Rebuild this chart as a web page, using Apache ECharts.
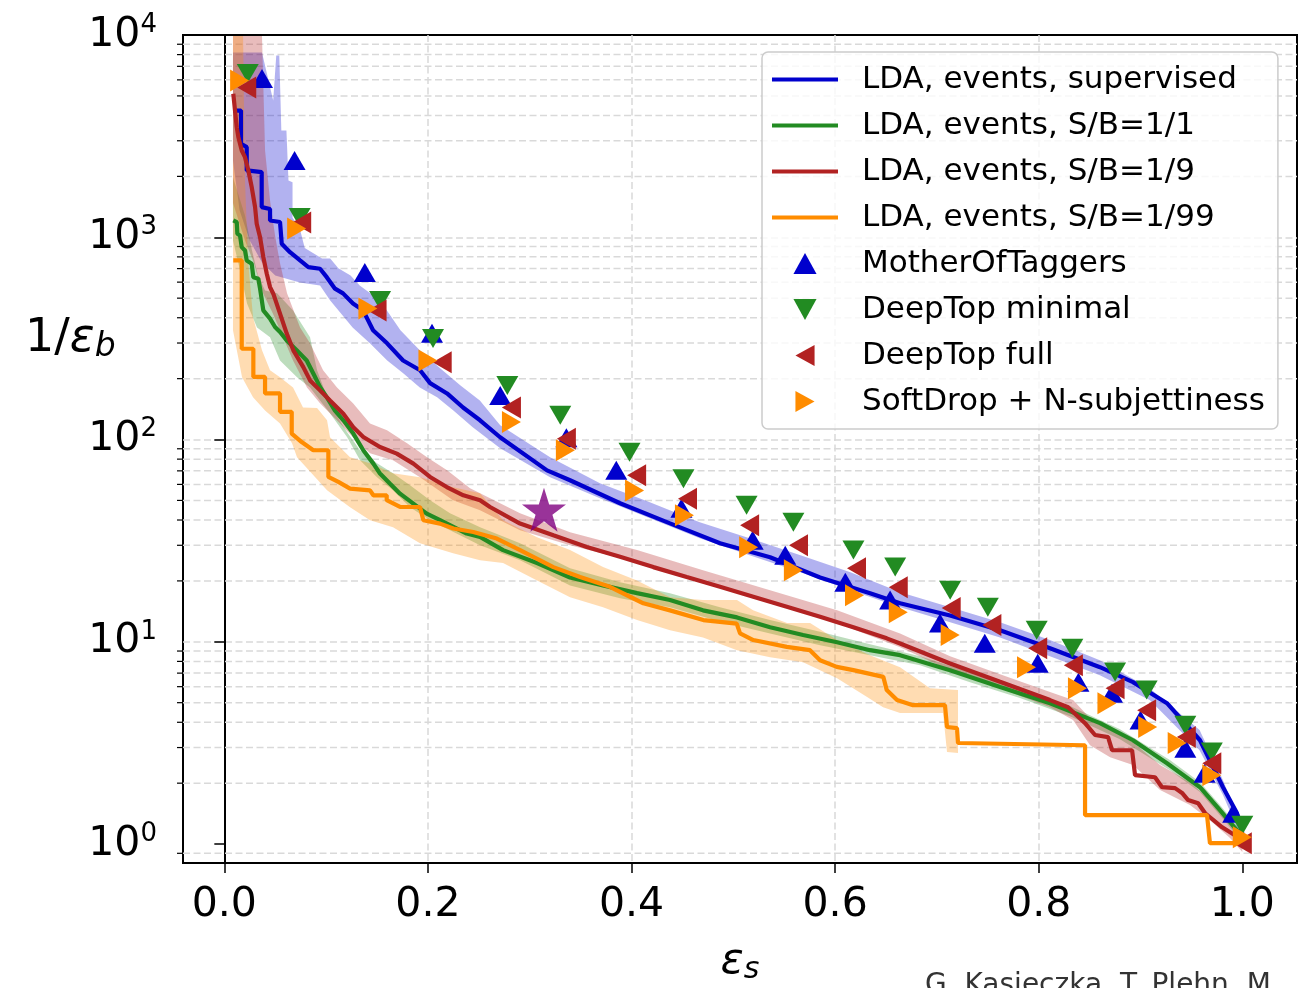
<!DOCTYPE html>
<html>
<head>
<meta charset="utf-8">
<script src="https://cdn.jsdelivr.net/npm/echarts@6/dist/echarts.min.js"></script>
<style>
  html, body { margin: 0; padding: 0; background: #fff; }
  #main { width: 1305px; height: 988px; }
</style>
</head>
<body>
<div id="main"></div>
<script>
// axis ticks
const xTicks = [0, 0.2, 0.4, 0.6, 0.8, 1.0];
const yTicks = [1, 10, 100, 1000, 10000];
const yMinorTicks = [0.9, 2, 3, 4, 5, 6, 7, 8, 9, 20, 30, 40, 50, 60, 70, 80, 90,
  200, 300, 400, 500, 600, 700, 800, 900, 2000, 3000, 4000, 5000, 6000, 7000, 8000, 9000];

// LDA curves: [eps_s, 1/eps_b]
const ldaSupervised = [[0.0088,4230],[0.0164,4230],[0.0164,2900],[0.022,2790],[0.022,2140],[0.0367,2100],[0.0367,1410],[0.0449,1380],[0.0449,1210],[0.0547,1190],[0.0564,929],[0.0645,844],[0.0744,768],[0.0825,712],[0.094,699],[0.1006,635],[0.1087,557],[0.1166,528],[0.1264,471],[0.1363,435],[0.1461,347],[0.1599,299],[0.1756,246],[0.1923,220],[0.2021,190],[0.2188,169],[0.2345,144],[0.2512,124.5],[0.2709,102.6],[0.317,70.4],[0.3396,62.9],[0.3887,48.4],[0.4378,38.5],[0.4869,30.7],[0.5361,26.2],[0.5852,20.8],[0.6343,17.4],[0.6638,15.5],[0.7129,13.5],[0.762,11.4],[0.8111,9.3],[0.8602,7.49],[0.8926,6.32],[0.926,4.97],[0.9584,3.26],[0.981,1.91],[0.9948,1.42],[1.0,1.13]];
const ldaSB1 = [[0.0088,1211],[0.0122,1188],[0.0128,1040],[0.0154,1021],[0.0171,894],[0.0203,861],[0.022,768],[0.0269,740],[0.0285,635],[0.0334,624],[0.0351,557],[0.0383,435],[0.0449,396],[0.0498,360],[0.0547,340],[0.0613,309],[0.0711,276],[0.0809,246],[0.0874,212],[0.094,182],[0.1006,162],[0.1087,139],[0.1169,124.5],[0.1267,107],[0.1365,88.5],[0.1464,76],[0.1529,67.9],[0.1628,60.5],[0.1726,54],[0.1857,48.2],[0.1988,43],[0.2119,39.9],[0.225,37],[0.2381,34.3],[0.2512,33],[0.2738,28.4],[0.3072,24.5],[0.3396,20.8],[0.372,19],[0.4054,17.4],[0.4378,16.1],[0.4702,14.3],[0.5036,13.2],[0.5361,11.8],[0.5685,10.8],[0.6019,9.95],[0.6343,9.09],[0.6638,8.59],[0.7129,7.24],[0.762,5.97],[0.8111,4.97],[0.8602,3.96],[0.8926,3.26],[0.926,2.51],[0.9584,1.91],[0.978,1.47],[0.9948,1.17],[1.0,1.08]];
const ldaSB9 = [[0.0088,5120],[0.0105,4230],[0.0122,3500],[0.0138,3125],[0.0171,2685],[0.0203,2488],[0.0236,2138],[0.0269,1770],[0.0302,1409],[0.0318,1166],[0.0351,1001],[0.0383,797],[0.0417,660],[0.0449,567],[0.0481,526],[0.0547,419],[0.0613,334],[0.0678,276],[0.0776,228],[0.0842,196],[0.094,175],[0.1038,156],[0.1169,134],[0.1267,115],[0.1365,103],[0.1529,91.8],[0.1694,85.2],[0.1857,76],[0.2021,65.3],[0.2185,58.2],[0.2348,53],[0.2512,50.1],[0.261,46.4],[0.2905,38.4],[0.3232,33.6],[0.356,29.4],[0.3887,26.3],[0.4214,23.4],[0.4542,20.9],[0.4869,18.7],[0.5196,16.7],[0.5525,14.9],[0.5852,13.3],[0.6179,11.8],[0.6507,10.4],[0.6638,9.81],[0.7129,7.81],[0.762,6.34],[0.8111,5.15],[0.8288,4.75],[0.8455,3.96],[0.8553,3.46],[0.8681,3.38],[0.872,2.91],[0.8917,2.91],[0.8946,2.19],[0.9142,2.14],[0.9211,1.91],[0.9339,1.89],[0.9408,1.79],[0.9467,1.65],[0.9566,1.59],[0.9635,1.42],[0.9802,1.21],[0.9958,1.08],[1.0,1.0]];
const ldaSB99 = [[0.0088,768],[0.0171,768],[0.0171,281],[0.0285,281],[0.0285,204],[0.04,204],[0.04,169],[0.0547,169],[0.0547,137],[0.0662,137],[0.0662,107],[0.076,97.2],[0.0874,88.5],[0.1022,88.5],[0.1022,65.3],[0.112,61.7],[0.1235,57.2],[0.1431,56.1],[0.1464,53],[0.1595,53],[0.1595,50.1],[0.1726,46.4],[0.1922,46.4],[0.1955,39.9],[0.2119,38.4],[0.225,36.3],[0.2446,34.9],[0.2676,32.4],[0.2905,28.4],[0.3232,23.4],[0.3494,20.9],[0.3788,18.7],[0.3985,16.7],[0.4116,15.5],[0.4378,14.3],[0.4705,12.8],[0.5033,12.3],[0.5066,11.0],[0.5196,10.2],[0.5525,9.44],[0.5753,9.09],[0.5852,8.11],[0.6016,7.52],[0.6179,7.24],[0.6473,6.71],[0.6507,5.77],[0.6608,5.15],[0.6765,4.86],[0.7079,4.86],[0.7099,3.79],[0.7197,3.74],[0.7207,3.16],[0.8455,3.08],[0.8455,1.39],[0.9653,1.39],[0.9682,1.01],[1.0,1.01]];

// uncertainty bands: upper and lower edges
const supervisedHi = [[0.0085,8190],[0.037,8190],[0.048,4740],[0.051,7910],[0.054,7910],[0.056,3370],[0.061,3370],[0.063,1910],[0.067,1870],[0.067,1250],[0.074,1110],[0.079,885],[0.096,785],[0.104,785],[0.112,702],[0.124,648],[0.133,578],[0.153,487],[0.173,347],[0.192,276],[0.212,225],[0.232,185],[0.251,156],[0.271,117.5],[0.32,81.7],[0.369,60.8],[0.418,49],[0.467,39],[0.516,32.5],[0.566,26.8],[0.615,22.1],[0.664,17.6],[0.713,14.8],[0.762,12.5],[0.811,10.2],[0.86,8.11],[0.909,5.9],[0.958,3.66],[0.981,2.07],[1.0,1.2]];
const supervisedLo = [[0.0085,2395],[0.015,1356],[0.025,964],[0.037,750],[0.05,648],[0.074,598],[0.094,578],[0.104,487],[0.126,358],[0.143,299],[0.16,246],[0.176,212],[0.192,181],[0.209,162],[0.225,139],[0.244,115],[0.271,90.5],[0.32,65],[0.369,51.2],[0.418,40.8],[0.467,32.5],[0.516,26.8],[0.566,22.1],[0.615,18],[0.664,14.8],[0.713,12.5],[0.762,10.5],[0.811,8.49],[0.86,6.84],[0.909,5.15],[0.958,2.91],[0.981,1.75],[1.0,1.05]];
const sb1Hi = [[0.0085,1975],[0.0203,1282],[0.0272,861],[0.0331,648],[0.04,546],[0.0518,528],[0.0675,435],[0.0842,320],[0.0911,220],[0.1038,148],[0.1205,109],[0.1333,88.5],[0.15,76.3],[0.1657,68.1],[0.1824,59.4],[0.2021,50.1],[0.2217,43.2],[0.2512,36.8],[0.2905,30.7],[0.3396,23.1],[0.3887,19.7],[0.4378,17.4],[0.4869,14.8],[0.5361,12.8],[0.5852,11.2],[0.6343,9.73],[0.6834,8.49],[0.7325,7.08],[0.7816,5.83],[0.8307,4.81],[0.8798,3.7],[0.9288,2.6],[0.9584,2.02],[0.978,1.56],[1.0,1.15]];
const sb1Lo = [[0.0085,964],[0.0154,686],[0.0223,471],[0.0321,358],[0.0449,320],[0.0547,246],[0.0714,203],[0.0842,181],[0.094,156],[0.1038,135],[0.1205,103],[0.1333,78.9],[0.15,65],[0.1657,56.1],[0.1824,46.2],[0.2021,39.9],[0.2217,35.6],[0.2512,30],[0.2905,25.3],[0.3396,19],[0.3887,16.4],[0.4378,14.8],[0.4869,12.6],[0.5361,11],[0.5852,9.62],[0.6343,8.59],[0.6834,7.66],[0.7325,6.31],[0.7816,5.27],[0.8307,4.29],[0.8798,3.3],[0.9288,2.32],[0.9584,1.81],[0.978,1.39],[1.0,1.02]];
const sb9Hi = [[0.0085,9900],[0.037,9900],[0.04,2685],[0.0449,1520],[0.0498,1021],[0.0547,743],[0.0616,528],[0.0744,358],[0.0842,299],[0.097,220],[0.1107,181],[0.1264,151],[0.1431,120],[0.1598,111],[0.1795,95.8],[0.1991,81.7],[0.2188,70.4],[0.2414,57.4],[0.2905,43.2],[0.3396,34.8],[0.4054,28.4],[0.4702,22.6],[0.5361,18],[0.6019,14.3],[0.6638,11],[0.7129,8.49],[0.762,6.92],[0.8111,5.64],[0.8337,5.15],[0.8504,4.19],[0.8701,3.66],[0.8926,3.19],[0.9192,2.46],[0.9486,2.02],[0.9683,1.65],[0.9879,1.31],[1.0,1.07]];
const sb9Lo = [[0.0085,1479],[0.0203,964],[0.0282,768],[0.038,528],[0.0478,419],[0.0577,320],[0.0675,246],[0.0812,181],[0.094,151],[0.1137,120],[0.1264,102.6],[0.1431,85.5],[0.1657,78.9],[0.1922,65],[0.2247,50.1],[0.2512,44.7],[0.2905,35.6],[0.3396,30],[0.4054,24.7],[0.4702,19.7],[0.5361,15.5],[0.6019,12.4],[0.6638,9.4],[0.7129,7.24],[0.762,5.9],[0.8111,4.75],[0.8337,4.1],[0.8504,3.08],[0.8701,2.69],[0.8926,2.46],[0.9192,1.85],[0.9486,1.56],[0.9683,1.31],[0.9879,1.07],[1.0,0.913]];
const sb99Hi = [[0.0085,9900],[0.0184,9900],[0.0203,1909],[0.0233,768],[0.0282,402],[0.037,276],[0.0449,220],[0.0547,203],[0.0675,181],[0.0773,144],[0.0911,143],[0.1009,124.5],[0.1038,102.6],[0.1235,81.7],[0.1431,76.3],[0.1657,68.1],[0.1922,65],[0.2247,58.1],[0.2512,54.2],[0.2738,39.9],[0.3072,32.9],[0.3396,28.4],[0.372,23.4],[0.4054,20.1],[0.4378,16.6],[0.4702,16.1],[0.5036,16.1],[0.5194,14.3],[0.5528,12.4],[0.5754,12.4],[0.6019,10.2],[0.6343,8.59],[0.6638,7.49],[0.6932,5.9],[0.7207,5.77]];
const sb99Lo = [[0.0085,347],[0.0174,203],[0.0282,162],[0.04,139],[0.0547,120],[0.0665,95.8],[0.0714,81.7],[0.1009,56.1],[0.1235,46.2],[0.1431,39.9],[0.1657,36.8],[0.1922,30.7],[0.2247,27.4],[0.2512,25.3],[0.2738,24.5],[0.3072,20.1],[0.3396,16.6],[0.372,14.8],[0.4054,12.8],[0.4378,11.4],[0.4702,10.5],[0.5036,9.09],[0.5361,8.39],[0.5685,7.93],[0.6019,6.61],[0.6314,5.33],[0.6471,4.75],[0.6638,4.44],[0.706,4.44],[0.7099,2.85],[0.7207,2.82]];

// reference taggers
const motherOfTaggers = [[0.037,6090],[0.069,2395],[0.138,670],[0.204,335],[0.271,165],[0.336,102],[0.385,70.4],[0.449,45.7],[0.519,31.8],[0.551,26.8],[0.61,19.7],[0.654,16.1],[0.703,12.4],[0.747,9.84],[0.799,7.84],[0.839,6.31],[0.872,5.57],[0.9,4.1],[0.944,2.98],[0.963,2.24],[0.991,1.42]];
const deepTopMinimal = [[0.023,6450],[0.074,1253],[0.153,487],[0.205,316],[0.278,185],[0.33,132],[0.398,86.5],[0.451,64],[0.513,47.3],[0.559,39],[0.618,28.4],[0.659,23.4],[0.713,18],[0.75,14.8],[0.798,11.4],[0.833,9.3],[0.875,7.08],[0.906,5.77],[0.944,3.87],[0.97,2.85],[1.0,1.24]];
const deepTopFull = [[0.022,5500],[0.076,1183],[0.15,435],[0.214,241],[0.282,144],[0.336,101],[0.405,66.5],[0.455,51],[0.516,37.7],[0.564,30],[0.621,23.1],[0.662,18.6],[0.714,14.7],[0.754,12.1],[0.799,9.3],[0.834,7.66],[0.875,5.9],[0.906,4.59],[0.945,3.38],[0.97,2.51],[1.0,1.01]];
const softDrop = [[0.015,5950],[0.071,1105],[0.141,445],[0.2,246],[0.282,122],[0.335,88.5],[0.403,56],[0.452,42.2],[0.515,29.3],[0.559,22.6],[0.619,17],[0.662,14],[0.713,10.8],[0.788,7.49],[0.838,5.9],[0.867,4.97],[0.907,3.79],[0.936,3.16],[0.97,2.19],[1.0,1.08]];
const starPoint = [[0.314, 45]];

const FONT = 'DejaVu Sans';
const BLUE = '#0000cd', GREEN = '#228b22', RED = '#b22222', ORANGE = '#ff8c00';

// legend icons
const LINE_ICON = 'path://M0,0 L66,0 L66,4 L0,4 Z';
const TRI_UP = 'path://M11,0 L22,20 L0,20 Z';
const TRI_DOWN = 'path://M0,0 L22,0 L11,20 Z';
const TRI_LEFT = 'path://M0,11 L20,0 L20,22 Z';
const TRI_RIGHT = 'path://M0,0 L20,11 L0,22 Z';

function band(upper, lower, color) {
  const pts = upper.concat(lower.slice().reverse());
  return {
    type: 'custom', silent: true, clip: true, z: 2,
    data: [[0.5, 10]],
    renderItem: (params, api) => ({
      type: 'polygon',
      shape: { points: pts.map(p => api.coord(p)) },
      style: { fill: color }
    })
  };
}

function curve(name, data, color) {
  return {
    name: name, type: 'line', data: data, symbol: 'none', z: 3,
    lineStyle: { color: color, width: 4.2 },
    itemStyle: { color: color }
  };
}

function markers(name, data, color, rotate) {
  return {
    name: name, type: 'scatter', data: data, z: 4,
    symbol: 'triangle', symbolSize: [22, 19], symbolRotate: rotate,
    itemStyle: { color: color, opacity: 1 }
  };
}

const gridLine = { show: true, showMinLine: false, showMaxLine: false,
  lineStyle: { color: '#d9d9d9', width: 1.5, type: [7, 3.5] } };

const chart = echarts.init(document.getElementById('main'));
const option = {
  animation: false,
  backgroundColor: '#fff',
  grid: {
    left: 183, right: 8, top: 35, bottom: 125,
    show: true, borderColor: '#000', borderWidth: 2,
    outerBoundsMode: 'none'
  },
  xAxis: {
    type: 'value', min: -0.0406, max: 1.0537,
    name: '{e|ε}{s|s}', nameLocation: 'middle', nameGap: 76,
    nameTextStyle: {
      rich: {
        e: { fontFamily: FONT, fontStyle: 'italic', fontSize: 43, lineHeight: 46, color: '#000' },
        s: { fontFamily: FONT, fontStyle: 'italic', fontSize: 30, lineHeight: 22, verticalAlign: 'bottom', color: '#000' }
      }
    },
    axisLine: { lineStyle: { color: '#000', width: 2 } },
    axisTick: { length: 10, customValues: xTicks, lineStyle: { color: '#000', width: 1.5 } },
    axisLabel: {
      customValues: xTicks, formatter: v => v.toFixed(1),
      fontFamily: FONT, fontSize: 41, lineHeight: 41, color: '#000', margin: 22
    },
    splitLine: gridLine
  },
  yAxis: {
    type: 'log', logBase: 10, min: 0.806, max: 10000,
    axisLine: { show: true, lineStyle: { color: '#000', width: 2 } },
    axisTick: { show: true, length: 10, customValues: yTicks, lineStyle: { color: '#000', width: 1.5 } },
    axisLabel: {
      customValues: yTicks,
      formatter: v => '{b|10}{s|' + Math.round(Math.log10(v)) + '}',
      margin: 26,
      rich: {
        b: { fontFamily: FONT, fontSize: 41, lineHeight: 46, color: '#000' },
        s: { fontFamily: FONT, fontSize: 26, lineHeight: 26, verticalAlign: 'top', color: '#000' }
      }
    },
    splitLine: gridLine
  },
  legend: {
    orient: 'vertical', left: 762, top: 52,
    symbolKeepAspect: true,
    data: [
      { name: 'LDA, events, supervised', icon: LINE_ICON },
      { name: 'LDA, events, S/B=1/1', icon: LINE_ICON },
      { name: 'LDA, events, S/B=1/9', icon: LINE_ICON },
      { name: 'LDA, events, S/B=1/99', icon: LINE_ICON },
      { name: 'MotherOfTaggers', icon: TRI_UP },
      { name: 'DeepTop minimal', icon: TRI_DOWN },
      { name: 'DeepTop full', icon: TRI_LEFT },
      { name: 'SoftDrop + N-subjettiness', icon: TRI_RIGHT }
    ],
    itemWidth: 66, itemHeight: 21, itemGap: 15,
    padding: [12, 13, 12, 10],
    backgroundColor: 'rgba(255,255,255,0.8)', borderColor: '#cccccc', borderWidth: 1.5, borderRadius: 6,
    formatter: name => '{g|}' + name,
    textStyle: {
      fontFamily: FONT, fontSize: 31, lineHeight: 30, color: '#000',
      rich: { g: { width: 19, lineHeight: 30 } }
    }
  },
  graphic: [
    {
      type: 'text', left: 25, top: 316,
      style: {
        text: '{n|1/}{e|ε}{b|b}',
        rich: {
          n: { fontFamily: FONT, fontSize: 46, lineHeight: 50, fill: '#000' },
          e: { fontFamily: FONT, fontStyle: 'italic', fontSize: 46, lineHeight: 50, fill: '#000' },
          b: { fontFamily: FONT, fontStyle: 'italic', fontSize: 33, lineHeight: 26, verticalAlign: 'bottom', fill: '#000' }
        }
      }
    },
    {
      type: 'text', left: 925, top: 972,
      style: { text: 'G. Kasieczka, T. Plehn, M.', fontFamily: FONT, fontSize: 28, fill: '#333' }
    }
  ],
  series: [
    {
      type: 'custom', silent: true, z: 1,
      data: yMinorTicks.map(v => [0, v]),
      renderItem: (params, api) => {
        const cs = params.coordSys;
        const y = api.coord([0, api.value(1)])[1];
        return {
          type: 'group',
          children: [
            { type: 'line', shape: { x1: cs.x, y1: y, x2: cs.x + cs.width, y2: y },
              style: { stroke: '#d9d9d9', lineWidth: 1.5, lineDash: [7, 3.5] } },
            { type: 'line', shape: { x1: cs.x - 6, y1: y, x2: cs.x, y2: y },
              style: { stroke: '#000', lineWidth: 1.2 } }
          ]
        };
      }
    },
    band(supervisedHi, supervisedLo, 'rgba(0,0,205,0.3)'),
    band(sb1Hi, sb1Lo, 'rgba(34,139,34,0.3)'),
    band(sb9Hi, sb9Lo, 'rgba(178,34,34,0.3)'),
    band(sb99Hi, sb99Lo, 'rgba(255,140,0,0.3)'),
    curve('LDA, events, supervised', ldaSupervised, BLUE),
    curve('LDA, events, S/B=1/1', ldaSB1, GREEN),
    curve('LDA, events, S/B=1/9', ldaSB9, RED),
    curve('LDA, events, S/B=1/99', ldaSB99, ORANGE),
    markers('MotherOfTaggers', motherOfTaggers, BLUE, 0),
    markers('DeepTop minimal', deepTopMinimal, GREEN, 180),
    markers('DeepTop full', deepTopFull, RED, 90),
    markers('SoftDrop + N-subjettiness', softDrop, ORANGE, -90),
    {
      name: 'star', type: 'scatter', data: starPoint, z: 5,
      symbol: 'path://M50,0 L61.2,34.5 L97.6,34.5 L68.2,55.9 L79.4,90.5 L50,69.1 L20.6,90.5 L31.8,55.9 L2.4,34.5 L38.8,34.5 Z',
      symbolSize: 44, itemStyle: { color: '#800080' }
    }
  ]
};
chart.setOption(option);
</script>
</body>
</html>
